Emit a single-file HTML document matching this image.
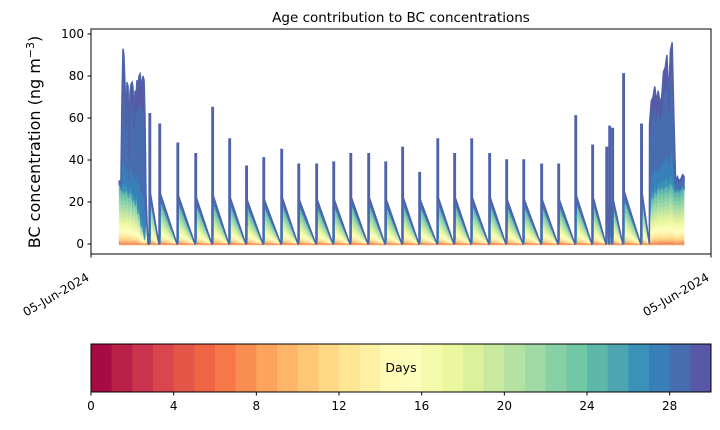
<!DOCTYPE html>
<html><head><meta charset="utf-8"><style>
body{margin:0;background:#fff;font-family:"Liberation Sans","DejaVu Sans",sans-serif;}
svg text{font-family:"DejaVu Sans","Liberation Sans",sans-serif;}
</style></head><body>
<svg id="chart" width="720" height="425" xmlns="http://www.w3.org/2000/svg"></svg>
<script>
// ---- data (time in days from axis start) ----
const spikeDays=[3.34,3.91,4.95,5.98,6.95,7.93,8.9,9.89,10.92,11.9,12.93,13.91,14.89,15.92,16.9,17.87,18.85,19.89,20.86,21.84,22.87,23.85,24.83,25.86,26.84,27.82,28.79,29.6,29.77,29.94,30.57,31.6];
const spikeHeights=[62,57,48,43,65,50,37,41,45,38,38,39,43,43,39,46,34,50,43,50,43,40,40,38,38,61,47,46,56,55,81,57];
const baseHeights=[24,24,23,22,23,22,21,21,22,21,21,21,22,22,21,22,21,22,22,22,22,21,21,21,21,23,22,18,20,21,25,24];
const cluster1Days=[1.6,1.66,1.72,1.78,1.84,1.89,1.95,2.01,2.07,2.13,2.18,2.24,2.3,2.36,2.41,2.47,2.53,2.59,2.64,2.7,2.76,2.82,2.87,2.93,2.99,3.05,3.1,3.16,3.22,3.28];
const cluster1Totals=[30,30,30,70,93,90,77,60,77,75,45,72,76,77,75,60,73,70,78,74,80,81,78,75,80,78,62,24,10,0];
const cluster1Young=[28,29,26,25,27,24,26,25,27,22,25,24,26,22,20,24,18,22,20,14,18,12,8,10,6,4,2,15,5,0];
const cluster2Days=[32.1,32.2,32.3,32.4,32.5,32.6,32.7,32.8,32.9,33.0,33.1,33.2,33.3,33.4,33.5,33.6,33.7,33.8,33.9,34.0,34.1];
const cluster2Totals=[57,68,70,75,68,73,67,70,82,84,90,70,92,96,60,30,32,30,31,33,32];
const cluster2Young=[10,24,22,26,24,28,26,28,26,28,28,27,30,28,26,25,26,25,26,27,26];
const bandWeights=[0.03,0.03,0.04,0.05,0.06,0.08,0.12,0.15,0.2,0.3,0.4,0.5,0.6,0.7,0.8,0.9,1,1.1,1.2,1.3,1.3,1.3,1.3,1.3,1.2,1.0,0.1,0.3,1,0.3];
const yTicks=[0,20,40,60,80,100];
const cbTicks=[0,4,8,12,16,20,24,28];

const NS="http://www.w3.org/2000/svg";
const svg=document.getElementById('chart');
function el(tag,attrs,parent){const e=document.createElementNS(NS,tag);for(const k in attrs)e.setAttribute(k,attrs[k]);(parent||svg).appendChild(e);return e;}
const X0=91,X1=711,Y0=29,Y1=254;
const xs=d=>X0+d*17.4;
const ys=v=>244-v*2.1;
const stops=["#9e0142","#d53e4f","#f46d43","#fdae61","#fee08b","#ffffbf","#e6f598","#abdda4","#66c2a5","#3288bd","#5e4fa2"];
function hex(h){return [1,3,5].map(i=>parseInt(h.substr(i,2),16));}
function spectral(f){const p=f*10,i=Math.min(9,Math.floor(p)),r=p-i;const a=hex(stops[i]),b=hex(stops[i+1]);return 'rgb('+a.map((v,k)=>Math.round(v+(b[k]-v)*r)).join(',')+')';}
const colors=bandWeights.map((w,i)=>spectral((i+0.5)/30));

const samples=[];
cluster1Days.forEach((d,i)=>samples.push([d,cluster1Totals[i],cluster1Young[i]]));
spikeDays.forEach((d,i)=>{
  const next=i+1<spikeDays.length?spikeDays[i+1]:cluster2Days[0];
  samples.push([d,0,0]);samples.push([d,spikeHeights[i],0]);samples.push([d+0.08,spikeHeights[i],0]);
  samples.push([d+0.08,baseHeights[i],baseHeights[i]*0.86]);
  samples.push([next-0.01,0,0]);
});
cluster2Days.forEach((d,i)=>samples.push([d,cluster2Totals[i],cluster2Young[i]]));

const youngW=bandWeights.slice(0,26).reduce((a,b)=>a+b,0);
const oldW=bandWeights.slice(26).reduce((a,b)=>a+b,0);
const plot=el('g',{});
let prev=samples.map(()=>0);
bandWeights.forEach((w,b)=>{
  const cur=samples.map((s,i)=>{
    const young=Math.min(s[2],s[1]),old=s[1]-young;
    const add=b<26?young*w/youngW:old*w/oldW;
    return prev[i]+add;
  });
  let pts=samples.map((s,i)=>xs(s[0]).toFixed(2)+','+ys(cur[i]).toFixed(2));
  let back=samples.map((s,i)=>xs(s[0]).toFixed(2)+','+ys(prev[i]).toFixed(2)).reverse();
  const p=el('polygon',{points:pts.concat(back).join(' '),fill:colors[b],stroke:b>=26?colors[b]:'none','stroke-width':b>=26?0.8:0},plot);
  
  
  prev=cur;
});
const base=el('line',{x1:xs(cluster1Days[0]),x2:xs(cluster2Days[cluster2Days.length-1]),y1:ys(0)+0.5,y2:ys(0)+0.5,stroke:'#f8a05a','stroke-width':1.5},plot);


const env=el('polyline',{points:samples.map(s=>xs(s[0]).toFixed(2)+','+ys(s[1]).toFixed(2)).join(' '),fill:'none',stroke:'#4f62aa','stroke-width':1.5},plot);



el('rect',{x:X0,y:Y0,width:X1-X0,height:Y1-Y0,fill:'none',stroke:'#000','stroke-width':1,});
yTicks.forEach(v=>{
  el('line',{x1:X0-3.5,x2:X0,y1:ys(v),y2:ys(v),stroke:'#000'});
  const t=el('text',{x:X0-7,y:ys(v)+4,'font-size':12,'text-anchor':'end'});t.textContent=v;
  
  
});
[X0,X1].forEach(x=>{
  el('line',{x1:x,x2:x,y1:Y1,y2:Y1+3.5,stroke:'#000'});
  const px=x-6,py=Y1+17;
  const t=el('text',{x:px,y:py+10,'font-size':12,'text-anchor':'end',transform:'rotate(-30 '+px+' '+py+')'});t.textContent='05-Jun-2024';
  
  
});
const yl=el('text',{x:0,y:0,'font-size':16,'text-anchor':'middle',transform:'translate(40,142) rotate(-90)',});
yl.innerHTML='BC concentration (ng m<tspan baseline-shift="super" font-size="11">−3</tspan>)';
const title=el('text',{x:401,y:22,'font-size':13.5,'text-anchor':'middle',});
title.textContent='Age contribution to BC concentrations';

const cb=el('g',{});
const CBY=344,CBH=48,seg=(X1-X0)/30;
colors.forEach((c,i)=>{const r=el('rect',{x:X0+i*seg,y:CBY,width:seg+0.5,height:CBH,fill:c},cb);
  
  });
el('rect',{x:X0,y:CBY,width:X1-X0,height:CBH,fill:'none',stroke:'#000','stroke-width':1},cb);
cbTicks.forEach(v=>{const x=X0+v*seg;
  el('line',{x1:x,x2:x,y1:CBY+CBH,y2:CBY+CBH+3.5,stroke:'#000'},cb);
  const t=el('text',{x:x,y:CBY+CBH+18,'font-size':12,'text-anchor':'middle'},cb);t.textContent=v;
  
  });
const dl=el('text',{x:401,y:372,'font-size':12.5,'text-anchor':'middle',},cb);
dl.textContent='Days';
</script>
</body></html>
